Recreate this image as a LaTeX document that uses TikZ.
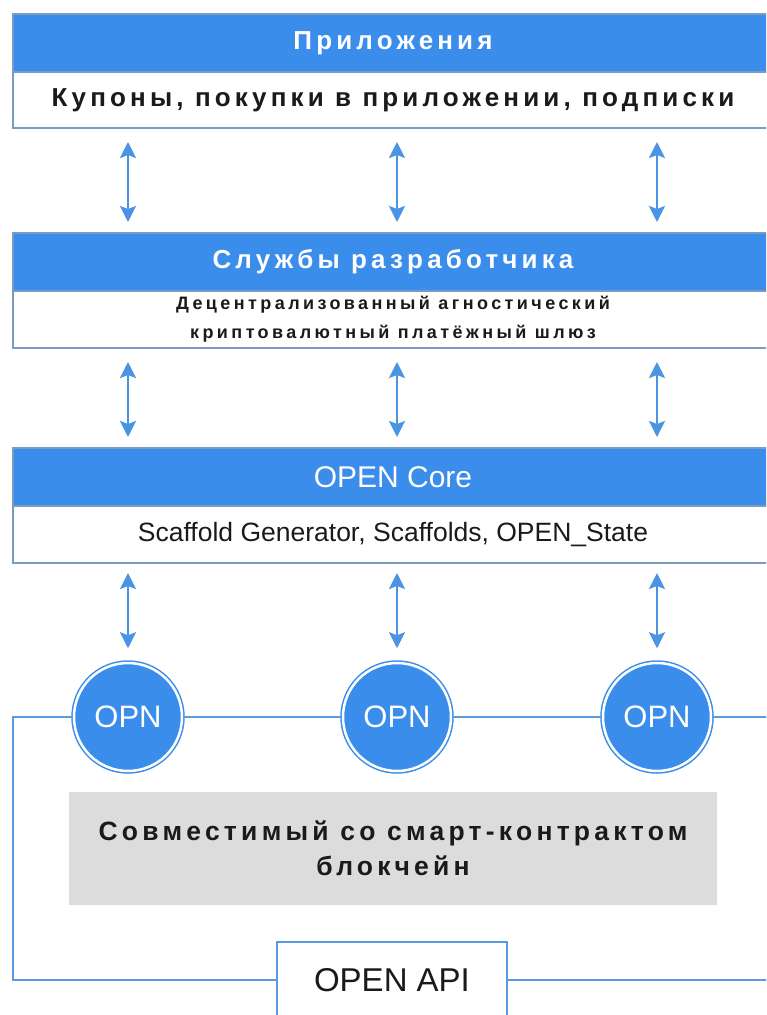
\documentclass[tikz,border=0pt]{standalone}
\usepackage{fontspec}
\setmainfont{Liberation Sans}
\newfontfamily\tracked[LetterSpace=16]{Liberation Sans}
\newfontfamily\trackedsmall[LetterSpace=19]{Liberation Sans}
\usepackage{xcolor}
\usepackage{tikz}
\usetikzlibrary{shapes.geometric, arrows.meta, positioning, calc}
\definecolor{bandblue}{HTML}{3A8DEB}
\definecolor{frame}{HTML}{7A9CC0}
\definecolor{arrowblue}{HTML}{4A94E4}
\definecolor{busblue}{HTML}{5A9BE0}
\definecolor{chaingray}{HTML}{DCDCDC}
\definecolor{ink}{HTML}{1A1A1A}
\tikzstyle{band} = [rectangle, minimum width=760pt, minimum height=58pt, inner sep=0pt, outer sep=0pt, text centered, draw=frame, line width=1.2pt, fill=bandblue, text=white]
\tikzstyle{panel} = [rectangle, minimum width=760pt, inner sep=0pt, outer sep=0pt, align=center, draw=frame, line width=1.2pt, fill=white, text=ink]
\tikzstyle{opn} = [circle, minimum size=108pt, inner sep=0pt, fill=bandblue, draw=bandblue, double=white, double distance=2.5pt, line width=1.5pt, text=white, font=\fontsize{31}{31}\selectfont]
\tikzstyle{chain} = [rectangle, minimum width=648pt, minimum height=113pt, inner sep=0pt, fill=chaingray, align=center, text=ink]
\tikzstyle{api} = [rectangle, minimum width=230pt, minimum height=76pt, inner sep=0pt, draw=busblue, line width=1.5pt, fill=white, text=ink, font=\fontsize{33}{33}\selectfont]
\tikzstyle{link} = [line width=2.5pt, draw=arrowblue, <->, >={Stealth[length=16pt,width=16pt,inset=3pt]}, shorten <=14pt, shorten >=11pt]
\tikzstyle{bus} = [line width=2.5pt, draw=busblue]

\begin{document}
\begin{tikzpicture}[x=1pt, y=-1pt]
\clip (0,0) rectangle (766,1015);
% Layers
\node (apps) [band, font=\tracked\bfseries\fontsize{26}{26}\selectfont] at (393,43) {Приложения};
\node (appsinfo) [panel, minimum height=56pt, below=0pt of apps, font=\tracked\bfseries\fontsize{26}{26}\selectfont] {Купоны, покупки в приложении, подписки};
\node (dev) [band, below=105pt of appsinfo, font=\tracked\bfseries\fontsize{26}{26}\selectfont] {Службы разработчика};
\node (devinfo) [panel, minimum height=57pt, below=0pt of dev, font=\trackedsmall\bfseries\fontsize{18}{29}\selectfont] {Децентрализованный агностический\\криптовалютный платёжный шлюз};
\node (core) [band, below=100pt of devinfo, font=\fontsize{30}{30}\selectfont] {OPEN Core};
\node (coreinfo) [panel, minimum height=57pt, below=0pt of core, font=\fontsize{26.5}{26.5}\selectfont] {Scaffold Generator, Scaffolds, OPEN\_State};

% Network
\node (opn1) [opn] at (128,717) {OPN};
\node (opn2) [opn] at (397,717) {OPN};
\node (opn3) [opn] at (657,717) {OPN};
\node (chainbox) [chain, font=\tracked\bfseries\fontsize{26.5}{35}\selectfont] at (393,848) {Совместимый со смарт-контрактом\\блокчейн};
\node (api) [api] at (392,980) {OPEN API};
\coordinate (busL) at (13,717);
\coordinate (busR) at (775,717);

% Arrows
\foreach \n in {opn1,opn2,opn3} {
  \draw [link] (appsinfo.south -| \n) -- (dev.north -| \n);
  \draw [link] (devinfo.south -| \n) -- (core.north -| \n);
  \draw [link, shorten <=10pt, shorten >=14pt] (coreinfo.south -| \n) -- (\n.north);
}

% Bus
\draw [bus] (api.west) -| (busL) -- (opn1);
\draw [bus] (opn1) -- (opn2);
\draw [bus] (opn2) -- (opn3);
\draw [bus] (opn3) -- (busR);
\draw [bus] (api.east) -- (api.east -| busR);
\end{tikzpicture}
\end{document}
